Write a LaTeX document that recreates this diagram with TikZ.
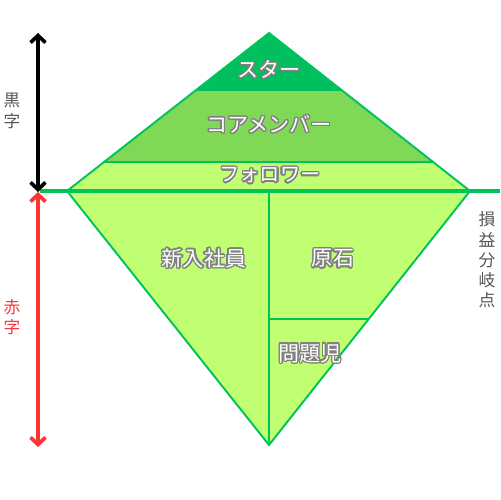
\documentclass[tikz,border=0pt]{standalone}
\usepackage{fontspec}
\usepackage{xcolor}
\usepackage{contour}
\usetikzlibrary{arrows.meta}
\newfontfamily\jp{Noto Sans CJK JP}
\definecolor{starg}{HTML}{00BF5F}
\definecolor{coreg}{HTML}{7FD957}
\definecolor{limeg}{HTML}{C1FF72}
\definecolor{edgeg}{HTML}{00C35A}
\definecolor{redarr}{HTML}{FF3333}
\definecolor{sidegray}{HTML}{555555}
\contourlength{0.75pt}
\contournumber{24}

\begin{document}
\begin{tikzpicture}[x=0.02cm,y=-0.02cm,
  lbl/.style={font=\jp\fontsize{12}{12}\selectfont, text=white, inner sep=0pt},
  side/.style={font=\jp\fontsize{9.5}{11.5}\selectfont, align=center, inner sep=0pt},
  edge/.style={draw=edgeg, line width=1.1pt},
  dbl/.style={line width=2.1pt, {Straight Barb[length=4pt,width=8.5pt]}-{Straight Barb[length=4pt,width=8.5pt]}}]
\useasboundingbox (0,0) rectangle (500,500);
\coordinate (T) at (269,33); \coordinate (L) at (67,191);
\coordinate (R) at (470,191); \coordinate (B) at (269,445);
\coordinate (S1) at (195,91); \coordinate (S2) at (343,91);
\coordinate (C1) at (104,162); \coordinate (C2) at (434,162);
\coordinate (M) at (269,191); \coordinate (P) at (269,319); \coordinate (Q) at (369,319);
\coordinate (G1) at (40,191); \coordinate (G2) at (500,191);
\coordinate (A1) at (38,33); \coordinate (A2) at (38,192); \coordinate (A3) at (38,447);
% layers
\fill[limeg] (C1) -- (C2) -- (R) -- (B) -- (L) -- cycle;
\fill[coreg] (S1) -- (S2) -- (C2) -- (C1) -- cycle;
\fill[starg] (T) -- (S2) -- (S1) -- cycle;
\draw[edge] (T) -- (R) -- (B) -- (L) -- cycle;
\draw[edge] (C1) -- (C2); \draw[edge] (M) -- (B); \draw[edge] (P) -- (Q);
\draw[edgeg, line width=2.3pt] (G1) -- (G2);
% arrows
\draw[dbl, black] (A1) -- (A2);
\draw[dbl, redarr] (A2) -- (A3);
% labels
\node[lbl] (star) at (269,70) {\contour{gray}{スター}};
\node[lbl] (core) at (269,125) {\contour{gray}{コアメンバー}};
\node[lbl, font=\jp\fontsize{11.5}{11.5}\selectfont] (follow) at (270,176) {\contour{gray}{フォロワー}};
\node[lbl] (newbie) at (204,259) {\contour{gray}{新入社員}};
\node[lbl] (gem) at (333,259) {\contour{gray}{原石}};
\node[lbl] (problem) at (310,354) {\contour{gray}{問題児}};
\node[side, text=sidegray] (black) at (12,111) {黒\\字};
\node[side, text=redarr] (red) at (12,317) {赤\\字};
\node[side, text=sidegray] (bep) at (487,260) {損\\益\\分\\岐\\点};
\end{tikzpicture}
\end{document}
